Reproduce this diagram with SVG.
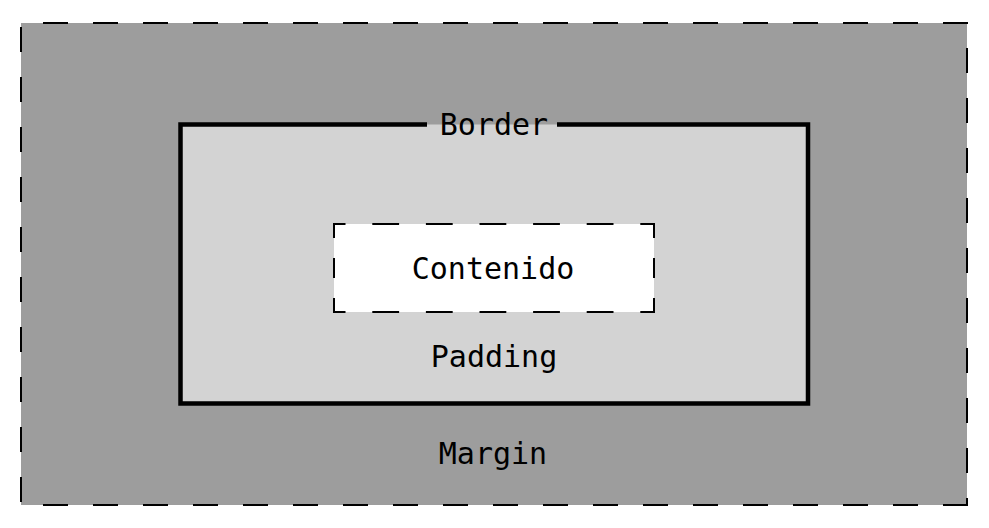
<svg xmlns="http://www.w3.org/2000/svg" width="989" height="528" viewBox="0 0 989 528">
  <style>
    .lbl { font-family: "DejaVu Sans Mono", "Liberation Mono", monospace; font-size: 30px; fill: #000; text-anchor: middle; }
    .odash { stroke: #000; stroke-width: 2; stroke-dasharray: 25 25; fill: none; }
    .idh { stroke: #000; stroke-width: 2; stroke-dasharray: 26.8 26.8; stroke-dashoffset: 14.3; fill: none; }
    .idv { stroke: #000; stroke-width: 2; stroke-dasharray: 20 20; stroke-dashoffset: 6; fill: none; }
  </style>
  <rect width="989" height="528" fill="#ffffff"/>
  <g id="margin">
    <rect x="21" y="23" width="946" height="482" fill="#9d9d9d"/>
    <line class="odash" x1="21" y1="23" x2="968" y2="23" stroke-dashoffset="28"/>
    <line class="odash" x1="21" y1="505" x2="968" y2="505" stroke-dashoffset="28"/>
    <line class="odash" x1="21" y1="23" x2="21" y2="505" stroke-dashoffset="46"/>
    <line class="odash" x1="967" y1="23" x2="967" y2="506" stroke-dashoffset="25"/>
    <text class="lbl" x="493" y="464">Margin</text>
  </g>
  <g id="border">
    <rect x="180.5" y="124.5" width="627.5" height="279" fill="#d3d3d3"/>
    <path d="M427,124.5 H180.5 V403.5 H808 V124.5 H557" fill="none" stroke="#000" stroke-width="4.5"/>
    <text class="lbl" x="494" y="135">Border</text>
  </g>
  <g id="padding">
    <text class="lbl" x="494" y="367">Padding</text>
  </g>
  <g id="content">
    <rect x="334" y="224" width="320" height="88" fill="#ffffff"/>
    <line class="idh" x1="333" y1="224" x2="655" y2="224"/>
    <line class="idh" x1="333" y1="312" x2="655" y2="312"/>
    <line class="idv" x1="334" y1="224" x2="334" y2="312"/>
    <line class="idv" x1="654" y1="224" x2="654" y2="312"/>
    <text class="lbl" x="493" y="279">Contenido</text>
  </g>
  <g id="connectors"/>
</svg>
